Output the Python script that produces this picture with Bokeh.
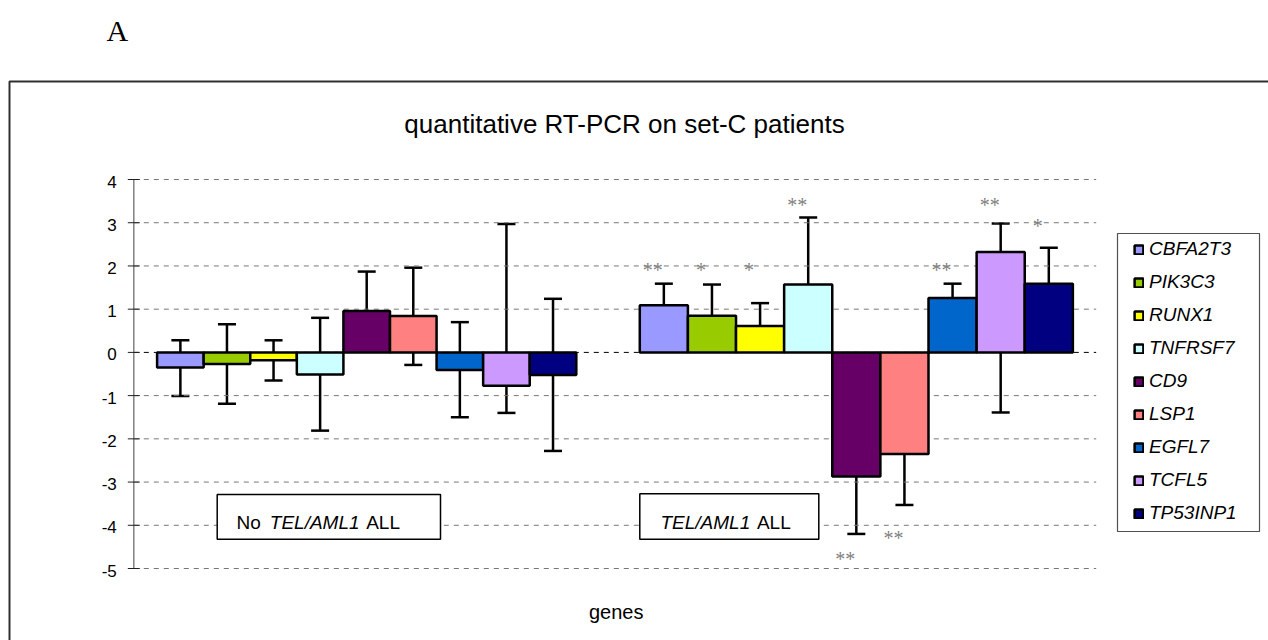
from bokeh.plotting import figure
from bokeh.models import (ColumnDataSource, Whisker, TeeHead, Legend, LegendItem, Label,
                          BoxAnnotation, Range1d)
from bokeh.core.properties import value
from bokeh.embed import file_html
from bokeh.resources import INLINE

# ---------------- data ----------------
genes = ["CBFA2T3", "PIK3C3", "RUNX1", "TNFRSF7", "CD9", "LSP1", "EGFL7", "TCFL5", "TP53INP1"]
colors = ["#9999FF", "#99CC00", "#FFFF00", "#CCFFFF", "#660066", "#FF8080", "#0066CC", "#CC99FF", "#000080"]

# group 1: No TEL/AML1 ALL
no_tel_mean = [-0.35, -0.27, -0.18, -0.51, 0.96, 0.84, -0.41, -0.77, -0.52]
no_tel_upper = [0.28, 0.65, 0.28, 0.80, 1.87, 1.96, 0.70, 2.97, 1.24]
no_tel_lower = [-1.01, -1.19, -0.65, -1.81, 0.05, -0.29, -1.50, -1.40, -2.28]

# group 2: TEL/AML1 ALL
tel_mean = [1.09, 0.85, 0.61, 1.57, -2.87, -2.35, 1.26, 2.32, 1.59]
tel_upper = [1.59, 1.57, 1.14, 3.12, -1.51, -1.16, 1.59, 2.98, 2.42]
tel_lower = [0.62, 0.12, 0.05, 0.02, -4.20, -3.53, 0.89, -1.39, 0.77]

# significance marks on the TEL/AML1 group
tel_sig = ["**", "*", "*", "**", "**", "**", "**", "**", "*"]
tel_sig_y = [1.98, 1.98, 1.98, 3.49, -4.72, -4.23, 1.98, 3.49, 3.00]

y_ticks = [-5, -4, -3, -2, -1, 0, 1, 2, 3, 4]
y_tick_labels = ["-5", "-4", "-3", "-2", "-1", "0", "1", "2", "3", "4"]

# ---------------- layout ----------------
W, H = 1268, 640
AX_PX = 133.3          # page x of the value axis (x = 0)
PPX = 481.2            # pixels per category unit
Y0_PY = 351.9          # page y of value 0
PPY = 43.222           # pixels per value unit

def rx(px):            # page x -> frame-relative screen x
    return px

def ry(py):            # page y -> frame-relative screen y (upwards)
    return H - py

group_center = [0.484, 1.5015]
bar_w = [0.0968, 0.100]

p = figure(width=W, height=H,
           x_range=Range1d(-AX_PX / PPX, (W - AX_PX) / PPX),
           y_range=Range1d((Y0_PY - H) / PPY, Y0_PY / PPY),
           output_backend="svg", toolbar_location=None, title=None,
           x_axis_location=None, y_axis_location=None,
           min_border=0, min_border_left=0, min_border_right=0,
           min_border_top=0, min_border_bottom=0)
p.outline_line_alpha = 0
p.background_fill_color = "white"
p.border_fill_color = "white"
p.xgrid.visible = False
p.ygrid.visible = False

def box(l, r_, t, b, fill=None, line="black", lw=1.5, level="annotation"):
    p.add_layout(BoxAnnotation(left=l, right=r_, top=t, bottom=b,
                               left_units="screen", right_units="screen",
                               top_units="screen", bottom_units="screen",
                               fill_color=fill if fill else "white",
                               fill_alpha=1 if fill else 0,
                               line_color=line, line_alpha=1, line_width=lw, level=level))

# outer chart border
box(rx(9), 3000, ry(81), -1000, fill=None, line="#303030", lw=2, level="underlay")

# gridlines (dashed), zero line dashed black
grid_ticks = [t for t in y_ticks if t != 0]
p.segment(x0=[0] * len(grid_ticks), x1=[2] * len(grid_ticks), y0=grid_ticks, y1=grid_ticks,
          line_color="#777777", line_dash="5 5", line_width=1)
p.segment(x0=[0], x1=[2], y0=[0], y1=[0], line_color="black", line_dash="5 5", line_width=1)

# value axis line, ticks and labels
p.segment(x0=[0], x1=[0], y0=[min(y_ticks)], y1=[max(y_ticks)], line_color="#808080", line_width=1.5)
tk = 6 / PPX
p.segment(x0=[-tk] * len(y_ticks), x1=[tk] * len(y_ticks), y0=y_ticks, y1=y_ticks,
          line_color="#202020", line_width=1)
p.text(x=[0] * len(y_ticks), y=y_ticks, text=y_tick_labels, x_offset=-17, y_offset=2,
       text_align="right", text_baseline="middle", text_font=value("Liberation Sans"),
       text_font_size="17px", text_color="black")

# bars
items = []
means = [no_tel_mean, tel_mean]
uppers = [no_tel_upper, tel_upper]
lowers = [no_tel_lower, tel_lower]
wx, wu, wl = [], [], []
for i, g in enumerate(genes):
    xs = [group_center[k] + (i - 4) * bar_w[k] for k in range(2)]
    src = ColumnDataSource(dict(x=xs, top=[means[0][i], means[1][i]], w=bar_w))
    r = p.vbar(x="x", top="top", bottom=0, width="w", source=src,
               fill_color=colors[i], line_color="black", line_width=2.5)
    items.append(LegendItem(label=g, renderers=[r]))
    for k in range(2):
        wx.append(xs[k]); wu.append(uppers[k][i]); wl.append(lowers[k][i])

esrc = ColumnDataSource(dict(x=wx, upper=wu, lower=wl))
p.add_layout(Whisker(base="x", upper="upper", lower="lower", source=esrc,
                     line_color="black", line_width=2.5,
                     upper_head=TeeHead(size=18, line_width=2.5, line_color="black"),
                     lower_head=TeeHead(size=18, line_width=2.5, line_color="black")))

# significance asterisks
sx = [group_center[1] + (i - 4) * bar_w[1] for i in range(len(genes))]
ssrc = ColumnDataSource(dict(x=sx, y=tel_sig_y, t=tel_sig))
p.text(x="x", y="y", text="t", source=ssrc, text_font=value("Liberation Serif"),
       text_font_size="20px", text_color="#7f7f7f", text_align="center",
       text_baseline="middle", x_offset=-11, y_offset=3)

# legend (box drawn separately)
box(rx(1117), rx(1259), ry(233), ry(531), fill="white", line="#505050", lw=1.2)
legend = Legend(items=items, location=(rx(1133), ry(524)))
legend.padding = 0
legend.margin = 0
legend.border_line_alpha = 0
legend.background_fill_alpha = 0
legend.label_text_font = "Liberation Sans"
legend.label_text_font_style = "italic"
legend.label_text_font_size = "19px"
legend.label_text_color = "black"
legend.glyph_width = 11
legend.glyph_height = 11
legend.label_standoff = 5
legend.label_height = 22
legend.spacing = 11
p.add_layout(legend)

# group boxes
for (l, r_, t, b) in [(216.7, 440, 494, 538.7), (639.3, 818.3, 493.3, 538.7)]:
    box(rx(l), rx(r_), ry(t), ry(b), fill="white", line="black", lw=1.5)

def lab(text, px, py, size, font="Liberation Sans", style="normal", align="left"):
    p.add_layout(Label(x=rx(px), y=ry(py), x_units="screen", y_units="screen", text=text,
                       text_font=font, text_font_size=size, text_font_style=style,
                       text_align=align, text_baseline="alphabetic", text_color="black"))

lab("No", 236, 521.7, "19px")
lab("TEL/AML1", 269.3, 521.7, "19px", style="italic")
lab("ALL", 365.7, 521.7, "19px")
lab("TEL/AML1", 660, 521.7, "19px", style="italic")
lab("ALL", 756.4, 521.7, "19px")

lab("quantitative RT-PCR on set-C patients", 624, 123.3, "26px", align="center")
lab("genes", 615.7, 611.7, "20px", align="center")
lab("A", 106, 30, "30px", font="Liberation Serif")

open("out.html", "w").write(file_html(p, INLINE))
